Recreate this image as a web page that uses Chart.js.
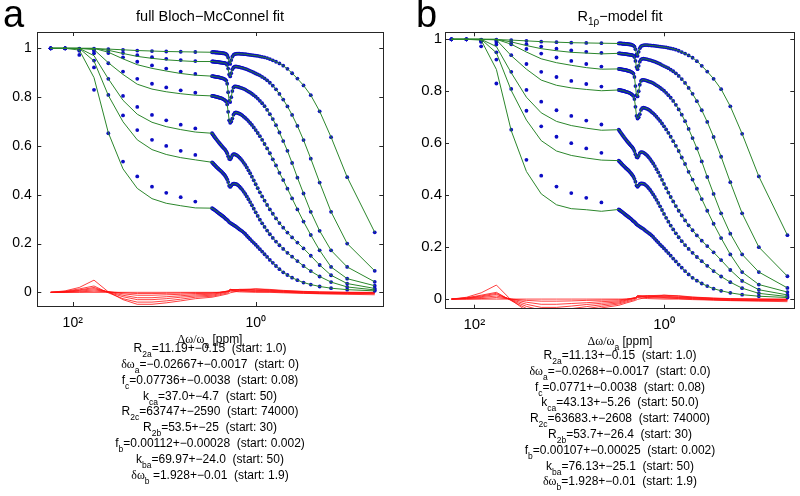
<!DOCTYPE html>
<html>
<head>
<meta charset="utf-8">
<script src="https://cdn.jsdelivr.net/npm/chart.js@4.4.1/dist/chart.umd.min.js"></script>
<style>
  body { margin: 0; background: #fff; }
  #fig { position: relative; width: 800px; height: 496px; background: #fff; overflow: hidden;
         font-family: 'Liberation Sans', Arial, sans-serif; color: #000; }
  canvas { position: absolute; top: 0; }
  .letter { position: absolute; top: -5.5px; font-size: 38px; line-height: 38px; }
  .title { position: absolute; width: 300px; text-align: center; font-size: 14.5px; line-height: 16px; top: 8px; }
  .title sub { font-size: 10px; vertical-align: -4px; }
  .block { position: absolute; width: 360px; text-align: center; font-size: 12px; line-height: 15.8px; white-space: pre; }
  sub { font-size: 8.5px; vertical-align: -5px; line-height: 0; }
  .g { font-family: 'Liberation Serif', 'DejaVu Serif', serif; }
</style>
</head>
<body>
<div id="fig">
  <canvas id="chartA" width="400" height="335" style="left:0"></canvas>
  <canvas id="chartB" width="400" height="335" style="left:400px"></canvas>
  <div class="letter" style="left:3px">a</div>
  <div class="letter" style="left:416px">b</div>
  <div class="title" style="left:60px">full Bloch−McConnel fit</div>
  <div class="title" style="left:470px">R<sub>1ρ</sub>−model fit</div>
  <div class="block" id="xlabA" style="left:30px;top:331.5px"></div>
  <div class="block" id="parA" style="left:30px;top:341.3px"></div>
  <div class="block" id="xlabB" style="left:440px;top:334px"></div>
  <div class="block" id="parB" style="left:440px;top:348px"></div>
</div>
<script>
// saturation offsets [ppm]: 11 log-spaced ones, then 0.05 ppm steps from 3.0 down to 0.05
const ppm = [174, 121, 84.7, 58.5, 40.8, 28.2, 19.7, 13.6, 9.5, 6.6, 4.57,
  3.0, 2.95, 2.9, 2.85, 2.8, 2.75, 2.7, 2.65, 2.6, 2.55,
  2.5, 2.45, 2.4, 2.35, 2.3, 2.25, 2.2, 2.15, 2.1, 2.05,
  2.0, 1.95, 1.9, 1.85, 1.8, 1.75, 1.7, 1.65, 1.6, 1.55,
  1.5, 1.45, 1.4, 1.35, 1.3, 1.25, 1.2, 1.15, 1.1, 1.05,
  1.0, 0.95, 0.9, 0.85, 0.8, 0.75, 0.7, 0.65, 0.6, 0.55,
  0.5, 0.45, 0.4, 0.35, 0.3, 0.25, 0.2, 0.15, 0.1, 0.05];

// measured Z-spectra (blue dots), one per saturation power, same data in both panels
const z1 = [1.0, 1.0, .999, .999, .997, .994, .991, .989, .987, .986, .985,
  .984, .984, .984, .984, .984, .983, .983, .983, .983, .982,
  .982, .982, .981, .981, .980, .980, .979, .978, .976, .972,
  .962, .942, .936, .952, .966, .973, .976, .977, .978, .978,
  .978, .977, .977, .976, .976, .975, .974, .973, .972, .971,
  .970, .969, .967, .965, .963, .960, .956, .951, .945, .938,
  .929, .916, .898, .876, .848, .808, .742, .636, .472, .246];
const z2 = [1.0, 1.0, .998, .995, .99, .981, .972, .964, .957, .952, .948,
  .946, .946, .946, .945, .945, .945, .944, .944, .944, .943,
  .943, .942, .942, .941, .941, .94, .94, .939, .937, .932,
  .917, .893, .885, .898, .914, .922, .925, .926, .925, .924,
  .923, .921, .92, .918, .916, .914, .911, .908, .905, .901,
  .897, .893, .889, .883, .877, .869, .859, .847, .832, .813,
  .79, .762, .727, .682, .624, .548, .45, .33, .20, .088];
const z3 = [1.0, 1.0, .997, .99, .981, .963, .945, .93, .917, .905, .895,
  .886, .886, .885, .885, .884, .884, .883, .883, .882, .882,
  .881, .88, .879, .878, .877, .876, .874, .872, .868, .855,
  .82, .785, .78, .80, .825, .84, .844, .844, .843, .842,
  .84, .838, .836, .834, .831, .827, .823, .819, .814, .808,
  .802, .794, .785, .775, .763, .748, .73, .71, .685, .655,
  .62, .58, .53, .47, .405, .33, .252, .172, .104, .043];
const z4 = [1.0, 1.0, .996, .98, .939, .905, .875, .855, .84, .828, .818,
  .805, .805, .804, .804, .803, .802, .802, .801, .80, .799,
  .798, .797, .796, .795, .793, .791, .789, .786, .782, .77,
  .74, .705, .695, .70, .712, .728, .735, .737, .736, .734,
  .732, .729, .725, .72, .715, .709, .702, .694, .686, .676,
  .665, .653, .64, .625, .608, .59, .57, .545, .52, .49,
  .46, .425, .385, .34, .29, .235, .172, .104, .056, .027];
const z5 = [1.0, 1.0, .993, .95, .875, .805, .76, .727, .705, .687, .672,
  .652, .648, .644, .64, .636, .632, .628, .624, .62, .616,
  .612, .608, .604, .60, .596, .592, .588, .584, .578, .57,
  .558, .547, .545, .552, .562, .566, .566, .564, .561, .557,
  .552, .546, .539, .531, .522, .512, .50, .488, .474, .459,
  .443, .427, .41, .393, .376, .358, .34, .322, .303, .284,
  .265, .245, .225, .204, .18, .15, .112, .07, .036, .016];
const z6 = [1.0, 1.0, .99, .922, .809, .725, .665, .625, .60, .58, .563,
  .533, .53, .527, .524, .521, .518, .515, .512, .509, .506,
  .503, .50, .497, .494, .49, .486, .482, .477, .471, .463,
  .452, .437, .432, .437, .443, .445, .445, .444, .442, .438,
  .433, .427, .42, .412, .403, .393, .382, .37, .357, .343,
  .328, .313, .298, .283, .268, .253, .238, .223, .208, .193,
  .178, .162, .146, .128, .108, .087, .065, .042, .022, .01];
const z7 = [1.0, 1.0, .973, .83, .652, .536, .475, .433, .408, .39, .372,
  .345, .343, .341, .339, .337, .335, .333, .33, .328, .325,
  .323, .32, .318, .315, .313, .31, .307, .303, .30, .297,
  .293, .288, .285, .282, .279, .276, .273, .27, .266, .262,
  .258, .254, .25, .245, .239, .232, .225, .218, .21, .203,
  .195, .186, .177, .167, .156, .145, .133, .121, .108, .095,
  .082, .071, .06, .05, .04, .032, .024, .017, .011, .006];

// fitted curves (green) at the 11 log-spaced offsets; below 3 ppm they follow the data
const fitA1 = [1.0, 1.0, .999, .999, .997, .994, .991, .989, .987, .986, .985];
const fitA2 = [1.0, 1.0, 1.0, 1.0, .992, .979, .967, .959, .953, .949, .946];
const fitA3 = [1.0, 1.0, 1.0, 1.0, .984, .957, .933, .918, .907, .897, .89];
const fitA4 = [1.0, 1.0, 1.0, .995, .941, .893, .853, .833, .822, .814, .808];
const fitA5 = [1.0, 1.0, 1.0, .97, .875, .787, .73, .697, .679, .667, .657];
const fitA6 = [1.0, 1.0, 1.0, .948, .807, .699, .625, .585, .565, .552, .543];
const fitA7 = [1.0, 1.0, .993, .88, .654, .506, .426, .384, .365, .355, .346];

const fitB1 = [1.0, 1.0, .999, .999, .997, .994, .991, .989, .987, .986, .985];
const fitB2 = [1.0, 1.0, 1.0, 1.0, .99, .976, .964, .956, .95, .947, .944];
const fitB3 = [1.0, 1.0, 1.0, 1.0, .981, .951, .925, .91, .90, .891, .885];
const fitB4 = [1.0, 1.0, 1.0, .998, .937, .885, .843, .823, .813, .807, .802];
const fitB5 = [1.0, 1.0, 1.0, .972, .871, .777, .717, .684, .668, .658, .65];
const fitB6 = [1.0, 1.0, 1.0, .948, .803, .689, .61, .57, .553, .543, .535];
const fitB7 = [1.0, 1.0, .997, .884, .648, .491, .405, .363, .348, .344, .338];

// residuals (red)
const resPpm = [174, 121, 84.7, 58.5, 40.8, 28.2, 19.7, 13.6, 9.5, 6.6, 4.57,
  3.0, 2.5, 2.0, 1.9, 1.5, 1.0, 0.7, 0.5, 0.3, 0.2, 0.1, 0.05];
const resA1 = [0, 0, 0, 0, 0, 0, 0, 0, 0, 0, 0, 0, 0, .003, .005, .002, 0, 0, -.002, -.004, -.006, -.008, -.01];
const resA2 = [0, 0, .002, .005, .002, -.002, -.005, -.005, -.004, -.003, -.002, -.002, 0, .005, .01, .005, .003, .002, 0, -.003, -.005, -.006, -.006];
const resA3 = [0, .001, .005, .01, .003, -.006, -.012, -.012, -.01, -.008, -.005, -.004, -.001, .006, .012, .008, .005, .004, .002, -.002, -.004, -.005, -.004];
const resA4 = [0, .002, .008, .015, .002, -.012, -.022, -.022, -.018, -.014, -.01, -.008, -.003, .005, .012, .01, .008, .006, .004, 0, -.002, -.003, -.003];
const resA5 = [0, .003, .01, .02, 0, -.018, -.03, -.03, -.026, -.02, -.015, -.012, -.006, .002, .01, .012, .01, .008, .005, .002, 0, -.001, -.002];
const resA6 = [0, .004, .014, .026, -.002, -.026, -.04, -.04, -.035, -.028, -.02, -.016, -.01, -.002, .006, .012, .014, .01, .006, .003, .001, 0, -.001];
const resA7 = [0, .006, .02, .05, .002, -.03, -.049, -.049, -.043, -.035, -.026, -.02, -.014, -.006, -.002, .006, .014, .012, .008, .004, .002, 0, 0];

const resB1 = [0, 0, 0, 0, 0, 0, 0, 0, 0, 0, 0, 0, 0, .003, .006, .002, 0, 0, -.002, -.004, -.006, -.008, -.01];
const resB2 = [0, 0, .002, .006, 0, -.005, -.008, -.008, -.007, -.005, -.004, -.003, 0, .005, .01, .006, .004, .002, 0, -.003, -.005, -.006, -.006];
const resB3 = [0, .002, .006, .012, 0, -.012, -.02, -.02, -.017, -.014, -.01, -.007, -.002, .006, .013, .009, .006, .004, .002, -.002, -.004, -.005, -.004];
const resB4 = [0, .003, .009, .018, -.002, -.02, -.032, -.032, -.027, -.021, -.016, -.011, -.004, .005, .013, .011, .009, .006, .004, 0, -.002, -.003, -.003];
const resB5 = [0, .004, .012, .022, -.004, -.028, -.043, -.043, -.037, -.029, -.022, -.015, -.007, .003, .011, .013, .011, .008, .005, .002, 0, -.001, -.002];
const resB6 = [0, .005, .015, .026, -.006, -.036, -.055, -.055, -.047, -.037, -.028, -.019, -.011, -.001, .007, .013, .015, .011, .007, .003, .001, 0, -.001];
const resB7 = [0, .007, .024, .054, -.004, -.045, -.07, -.07, -.06, -.046, -.034, -.024, -.015, -.005, -.001, .007, .015, .013, .008, .004, .002, 0, 0];

const xTicks = [100, 1];
const xTickText = { 100: '10²', 1: '10⁰' };
const yTicks = [0, 0.2, 0.4, 0.6, 0.8, 1];

const paramsA = [
  'R<sub>2a</sub>=11.19+−0.15  (start: 1.0)',
  '<span class="g">δω</span><sub>a</sub>=−0.02667+−0.0017  (start: 0)',
  'f<sub>c</sub>=0.07736+−0.0038  (start: 0.08)',
  'k<sub>ca</sub>=37.0+−4.7  (start: 50)',
  'R<sub>2c</sub>=63747+−2590  (start: 74000)',
  'R<sub>2b</sub>=53.5+−25  (start: 30)',
  'f<sub>b</sub>=0.00112+−0.00028  (start: 0.002)',
  'k<sub>ba</sub>=69.97+−24.0  (start: 50)',
  '<span class="g">δω</span><sub>b</sub> =1.928+−0.01  (start: 1.9)'
];
const paramsB = [
  'R<sub>2a</sub>=11.13+−0.15  (start: 1.0)',
  '<span class="g">δω</span><sub>a</sub>=−0.0268+−0.0017  (start: 0.0)',
  'f<sub>c</sub>=0.0771+−0.0038  (start: 0.08)',
  'k<sub>ca</sub>=43.13+−5.26  (start: 50.0)',
  'R<sub>2c</sub>=63683.+−2608  (start: 74000)',
  'R<sub>2b</sub>=53.7+−26.4  (start: 30)',
  'f<sub>b</sub>=0.00107+−0.00025  (start: 0.002)',
  'k<sub>ba</sub>=76.13+−25.1  (start: 50)',
  '<span class="g">δω</span><sub>b</sub>=1.928+−0.01  (start: 1.9)'
];
const xLabel = '<span class="g">Δω/ω</span><sub>a</sub> [ppm]';

const BLUE = '#0c0cc4';
const GREEN = '#2b862b';
const RED = '#ff1010';

const zData = [z1, z2, z3, z4, z5, z6, z7];

function pts(xs, ys) {
  return ys.map((y, i) => ({ x: xs[i], y }));
}

// MATLAB-like box with inward ticks on all four sides
const boxTicks = {
  id: 'boxTicks',
  afterDraw(chart) {
    const { ctx, chartArea: a, scales: { x, y } } = chart;
    const len = 4;
    ctx.save();
    ctx.strokeStyle = '#262626';
    ctx.lineWidth = 1;
    ctx.beginPath();
    y.ticks.forEach(t => {
      const py = Math.round(y.getPixelForValue(t.value)) + 0.5;
      ctx.moveTo(a.left, py); ctx.lineTo(a.left + len, py);
      ctx.moveTo(a.right, py); ctx.lineTo(a.right - len, py);
    });
    x.ticks.forEach(t => {
      const px = Math.round(x.getPixelForValue(t.value)) + 0.5;
      ctx.moveTo(px, a.top); ctx.lineTo(px, a.top + len);
      ctx.moveTo(px, a.bottom); ctx.lineTo(px, a.bottom - len);
    });
    ctx.stroke();
    ctx.strokeRect(Math.round(a.left) + 0.5, Math.round(a.top) + 0.5,
      Math.round(a.right - a.left), Math.round(a.bottom - a.top));
    ctx.restore();
  }
};

function makeChart(id, fits, res, opt) {
  const datasets = [];
  res.forEach(r => datasets.push({
    data: pts(resPpm, r), showLine: true, borderColor: RED, borderWidth: 0.8,
    pointRadius: 0, order: 3
  }));
  zData.forEach(z => datasets.push({
    data: pts(ppm, z), showLine: false, pointRadius: 1.9, pointBorderWidth: 0,
    pointBackgroundColor: BLUE, backgroundColor: BLUE, order: 2
  }));
  fits.forEach((f, k) => datasets.push({
    data: pts(ppm, f.concat(zData[k].slice(f.length))), showLine: true,
    borderColor: GREEN, borderWidth: 1, pointRadius: 0, order: 1
  }));

  return new Chart(document.getElementById(id), {
    type: 'scatter',
    data: { datasets },
    options: {
      responsive: false,
      animation: false,
      events: [],
      layout: { padding: { top: opt.top, right: opt.right, left: 0, bottom: 0 } },
      plugins: { legend: { display: false }, tooltip: { enabled: false } },
      scales: {
        x: {
          type: 'logarithmic', reverse: true, min: opt.xMin, max: opt.xMax, bounds: 'data',
          grid: { display: false, drawTicks: false }, border: { display: false },
          afterBuildTicks: s => { s.ticks = xTicks.map(v => ({ value: v })); },
          afterFit: s => { s.height = opt.xH; },
          ticks: {
            autoSkip: false, maxRotation: 0, padding: opt.xPad, color: '#000',
            font: { family: "'Liberation Sans', Arial, sans-serif", size: opt.font },
            callback: v => xTickText[v]
          }
        },
        y: {
          min: opt.yMin, max: opt.yMax, bounds: 'data',
          grid: { display: false, drawTicks: false }, border: { display: false },
          afterBuildTicks: s => { s.ticks = yTicks.map(v => ({ value: v })); },
          afterFit: s => { s.width = opt.yW; },
          ticks: {
            padding: opt.yPad, color: '#000',
            font: { family: "'Liberation Sans', Arial, sans-serif", size: opt.font },
            callback: v => String(Math.round(v * 10) / 10)
          }
        }
      }
    },
    plugins: [boxTicks]
  });
}

makeChart('chartA',
  [fitA1, fitA2, fitA3, fitA4, fitA5, fitA6, fitA7],
  [resA1, resA2, resA3, resA4, resA5, resA6, resA7],
  { xMin: 0.0403, xMax: 243.8, yMin: -0.056, yMax: 1.067, top: 32, right: 16.7,
    yW: 37.3, xH: 29, xPad: 9, yPad: 5.5, font: 14 });

makeChart('chartB',
  [fitB1, fitB2, fitB3, fitB4, fitB5, fitB6, fitB7],
  [resB1, resB2, resB3, resB4, resB5, resB6, resB7],
  { xMin: 0.0423, xMax: 203.7, yMin: -0.037, yMax: 1.027, top: 32.3, right: 5.7,
    yW: 45, xH: 26.3, xPad: 7, yPad: 3, font: 15 });

document.getElementById('xlabA').innerHTML = xLabel;
document.getElementById('xlabB').innerHTML = xLabel;
document.getElementById('parA').innerHTML = paramsA.join('\n');
document.getElementById('parB').innerHTML = paramsB.join('\n');
</script>
</body>
</html>
